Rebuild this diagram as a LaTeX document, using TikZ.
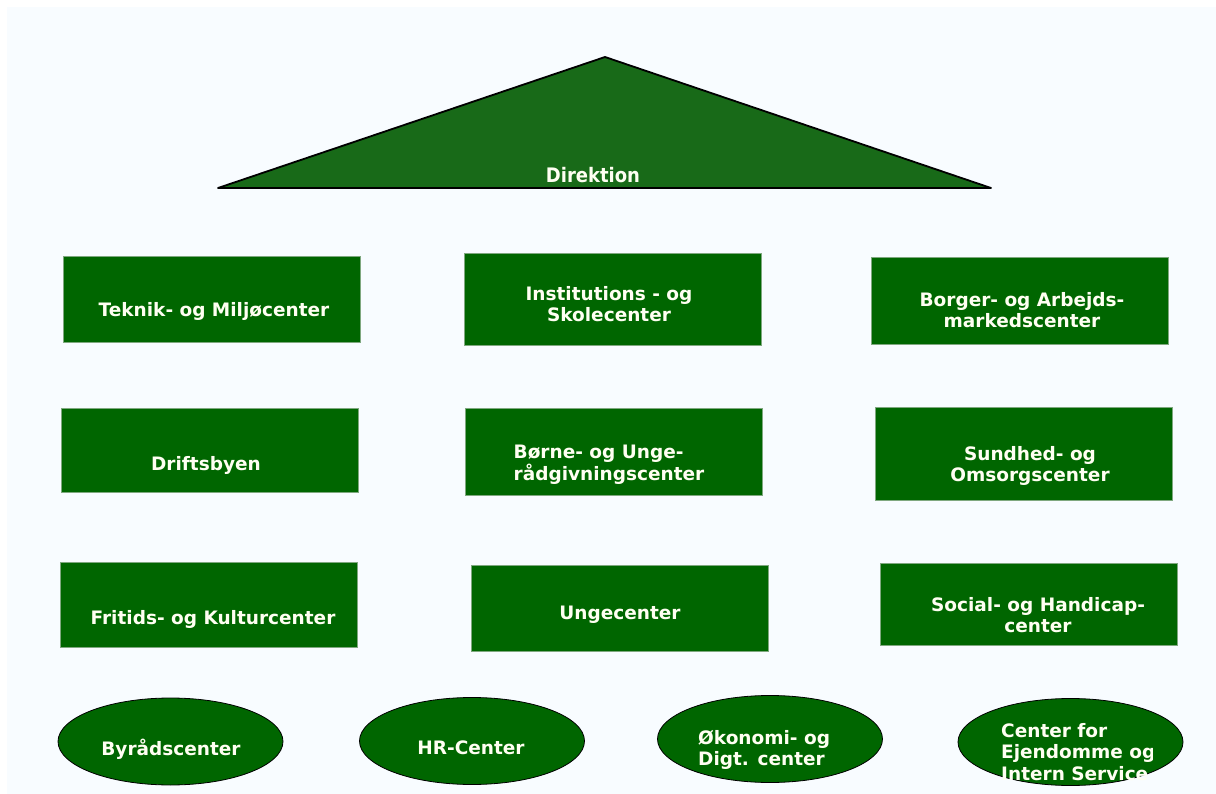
\documentclass[tikz,border=0pt]{standalone}
\usepackage{fontspec}
\setmainfont{DejaVu Sans}
\newfontfamily\condfont{DejaVu Sans Condensed}
\usetikzlibrary{shapes.geometric}
\definecolor{pagebg}{HTML}{F8FCFF}
\definecolor{boxgreen}{HTML}{006600}
\definecolor{boxedge}{HTML}{7FA87F}
\definecolor{roofgreen}{HTML}{186A18}
\definecolor{labelwhite}{HTML}{FFFFF2}

\begin{document}
\begin{tikzpicture}[x=1pt,y=-1pt,
  centerbox/.style={draw=boxedge, line width=0.6pt, fill=boxgreen,
    minimum width=297pt, inner sep=0pt},
  unitoval/.style={ellipse, draw=black, line width=0.8pt, fill=boxgreen,
    minimum width=225pt, minimum height=87pt, inner sep=0pt},
  lbl/.style={text=labelwhite, font=\bfseries\fontsize{18.5}{21.5}\selectfont,
    align=center, inner sep=0pt},
  lbll/.style={lbl, align=left},
]
\useasboundingbox (0,0) rectangle (1216,794);
\fill[white] (0,0) rectangle (1216,794);
\fill[pagebg] (7,7) rectangle (1216,794);

% management roof
\coordinate (apex) at (605,57);
\coordinate (roofL) at (218,188);
\coordinate (roofR) at (991,188);
\draw[fill=roofgreen, line width=1.8pt, line join=round] (roofL) -- (apex) -- (roofR) -- cycle;
\node[text=labelwhite, inner sep=0pt, font=\condfont\bfseries\fontsize{20}{24}\selectfont]
  (direktion) at (593,175) {Direktion};

% centers, row 1
\node[centerbox, minimum height=86pt] (b1a) at (212,299) {};
\node[centerbox, minimum height=92pt] (b1b) at (612.5,299) {};
\node[centerbox, minimum height=87pt] (b1c) at (1020,300.5) {};
\node[lbl] (t1a) at (214,311) {Teknik- og Miljøcenter};
\node[lbl] (t1b) at (609,304) {Institutions - og\\Skolecenter};
\node[lbl] (t1c) at (1022,310) {Borger- og Arbejds-\\markedscenter};

% centers, row 2
\node[centerbox, minimum height=84pt] (b2a) at (209.5,450) {};
\node[centerbox, minimum height=87pt] (b2b) at (613.5,451.5) {};
\node[centerbox, minimum height=93pt] (b2c) at (1023.5,453.5) {};
\node[lbl] (t2a) at (206,465) {Driftsbyen};
\node[lbll] (t2b) at (609,465) {Børne- og Unge-\\rådgivningscenter};
\node[lbl] (t2c) at (1030,466) {Sundhed- og\\Omsorgscenter};

% centers, row 3
\node[centerbox, minimum height=85pt] (b3a) at (208.5,604.5) {};
\node[centerbox, minimum height=86pt] (b3b) at (619.5,608) {};
\node[centerbox, minimum height=82pt] (b3c) at (1028.5,604) {};
\node[lbl] (t3a) at (213,619) {Fritids- og Kulturcenter};
\node[lbl] (t3b) at (620,615) {Ungecenter};
\node[lbl] (t3c) at (1038,615) {Social- og Handicap-\\center};

% staff units
\node[unitoval] (e1) at (170.5,741.5) {};
\node[unitoval] (e2) at (472,741) {};
\node[unitoval] (e3) at (770,739) {};
\node[unitoval] (e4) at (1070.5,742) {};
\node[lbl] (u1) at (171,749) {Byrådscenter};
\node[lbl] (u2) at (471,748) {HR-Center};
\node[lbll, anchor=west] (u3) at (698,750) {Økonomi- og\\Digt. center};
\begin{scope}
  \clip (990,700) rectangle (1152,781);
  \node[lbll, anchor=west] (u4) at (1001,752) {Center for\\Ejendomme og\\Intern Service};
\end{scope}
\end{tikzpicture}
\end{document}
